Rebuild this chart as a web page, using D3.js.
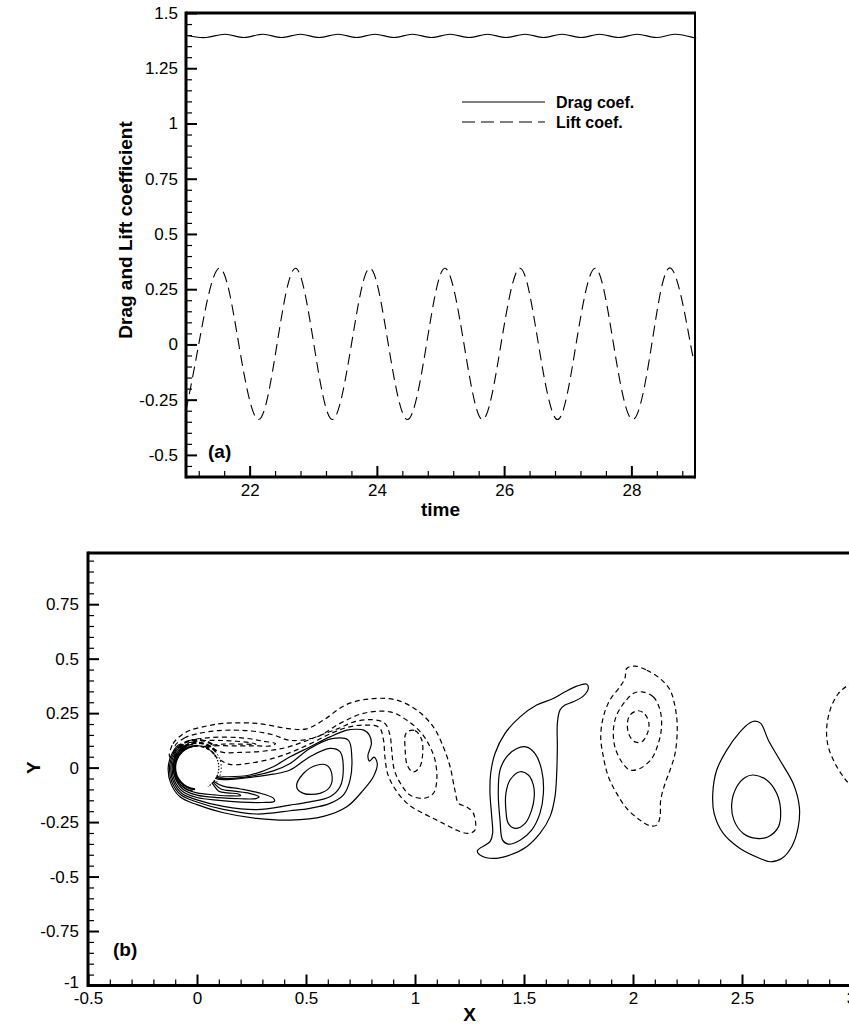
<!DOCTYPE html>
<html><head><meta charset="utf-8">
<script src="https://cdn.jsdelivr.net/npm/d3@7"></script>
<style>
body{margin:0;background:#fff}
text{font-family:"Liberation Sans",Arial,Helvetica,sans-serif;fill:#000}
</style>
</head><body>
<svg id="c" width="849" height="1025"></svg>
<script>
// ---------------- DATA: panel (a) ----------------
const liftTime  = [21.00,21.20,21.52,21.83,22.14,22.43,22.72,23.01,23.30,23.60,23.89,24.18,24.48,24.78,25.07,25.37,25.66,25.95,26.25,26.54,26.84,27.13,27.43,27.72,28.02,28.32,28.62,28.93,29.00];
const liftValue = [-0.30,0,0.345,0,-0.34,0,0.345,0,-0.34,0,0.345,0,-0.34,0,0.345,0,-0.34,0,0.345,0,-0.34,0,0.345,0,-0.34,0,0.345,0,-0.07];
const dragTime  = [21.00,21.32,21.62,21.91,22.21,22.50,22.80,23.09,23.39,23.68,23.97,24.27,24.56,24.86,25.15,25.45,25.74,26.03,26.33,26.62,26.91,27.21,27.50,27.80,28.09,28.39,28.68,28.97,29.00];
const dragValue = [1.399,1.389,1.404,1.389,1.404,1.389,1.404,1.389,1.404,1.389,1.404,1.389,1.404,1.389,1.404,1.389,1.404,1.389,1.404,1.389,1.404,1.389,1.404,1.389,1.404,1.389,1.404,1.389,1.390];
const timeTicks = [22,24,26,28];
const coefTicks = [-0.5,-0.25,0,0.25,0.5,0.75,1,1.25,1.5];
const legendLabels = ["Drag coef.","Lift coef."];
const panelA = {xLabel:"time", yLabel:"Drag and Lift coefficient", tag:"(a)"};

// ---------------- DATA: panel (b) vorticity contours (x, y) ----------------
const xTicksB = [-0.5,0,0.5,1,1.5,2,2.5,3];
const yTicksB = [-1,-0.75,-0.5,-0.25,0,0.25,0.5,0.75];
const panelB = {xLabel:"X", yLabel:"Y", tag:"(b)"};
const cylinder = {cx:0, cy:0, r:0.1};

// positive vorticity (solid)
const vortex1Outer = [[1.286,-0.382],[1.344,-0.340],[1.356,-0.302],[1.352,-0.226],[1.344,-0.118],[1.347,-0.027],[1.367,0.065],[1.413,0.157],[1.482,0.233],[1.558,0.287],[1.634,0.317],[1.688,0.348],[1.742,0.374],[1.788,0.383],[1.795,0.363],[1.772,0.328],[1.726,0.302],[1.688,0.287],[1.665,0.264],[1.653,0.203],[1.653,0.095],[1.650,-0.027],[1.642,-0.134],[1.619,-0.226],[1.573,-0.302],[1.512,-0.363],[1.436,-0.401],[1.359,-0.417],[1.306,-0.406]];
const vortex1Mid = [[1.509,0.095],[1.550,0.065],[1.581,-0.011],[1.589,-0.118],[1.573,-0.210],[1.535,-0.287],[1.482,-0.333],[1.428,-0.351],[1.402,-0.333],[1.390,-0.241],[1.382,-0.118],[1.390,-0.011],[1.421,0.050],[1.467,0.088]];
const vortex1Inner = [[1.482,-0.019],[1.520,-0.034],[1.543,-0.080],[1.547,-0.134],[1.535,-0.195],[1.505,-0.256],[1.459,-0.279],[1.428,-0.256],[1.417,-0.195],[1.417,-0.118],[1.436,-0.057]];
const vortex3Outer = [[2.560,0.213],[2.586,0.203],[2.621,0.126],[2.674,0.034],[2.735,-0.073],[2.763,-0.180],[2.758,-0.272],[2.728,-0.363],[2.682,-0.417],[2.628,-0.432],[2.583,-0.417],[2.491,-0.371],[2.414,-0.302],[2.372,-0.210],[2.366,-0.118],[2.384,-0.011],[2.430,0.080],[2.491,0.164],[2.537,0.206]];
const vortex3Inner = [[2.552,-0.034],[2.613,-0.057],[2.659,-0.118],[2.677,-0.195],[2.667,-0.272],[2.621,-0.317],[2.567,-0.325],[2.506,-0.302],[2.463,-0.241],[2.453,-0.164],[2.476,-0.088],[2.514,-0.045]];
const shearPos4 = [[-0.076,0.108],[-0.114,0.066],[-0.132,0],[-0.121,-0.07],[-0.078,-0.134],[0,-0.17],[0.121,-0.207],[0.274,-0.233],[0.427,-0.241],[0.58,-0.224],[0.687,-0.18],[0.763,-0.103],[0.809,-0.042],[0.827,0.019],[0.812,0.048],[0.792,0.03],[0.784,0.055],[0.800,0.11],[0.790,0.15],[0.765,0.172],[0.73,0.176],[0.687,0.172],[0.61,0.141],[0.518,0.095],[0.427,0.05],[0.35,0.004],[0.243,-0.034],[0.136,-0.042],[0.09,-0.04],[0.05,0.0],[0.0,0.05],[-0.05,0.085]];
const shearPos3 = [[-0.072,0.103],[-0.109,0.063],[-0.126,0],[-0.115,-0.067],[-0.073,-0.126],[0,-0.158],[0.121,-0.192],[0.274,-0.213],[0.427,-0.198],[0.518,-0.187],[0.61,-0.164],[0.671,-0.126],[0.702,-0.057],[0.71,0.05],[0.694,0.126],[0.625,0.134],[0.518,0.088],[0.427,0.019],[0.35,-0.015],[0.243,-0.04],[0.14,-0.05],[0.088,-0.045],[0.04,0.0],[-0.03,0.07]];
const shearPos2 = [[-0.069,0.098],[-0.104,0.06],[-0.12,0],[-0.109,-0.063],[-0.069,-0.119],[0,-0.148],[0.121,-0.178],[0.274,-0.193],[0.427,-0.172],[0.518,-0.157],[0.61,-0.134],[0.656,-0.088],[0.671,0.004],[0.656,0.073],[0.61,0.088],[0.518,0.05],[0.427,-0.011],[0.35,-0.03],[0.243,-0.045],[0.14,-0.055],[0.086,-0.05],[0.04,-0.01],[-0.03,0.06]];
const wakeBlob = [[0.457,-0.088],[0.488,-0.027],[0.549,0.011],[0.595,0.011],[0.618,-0.027],[0.61,-0.088],[0.564,-0.118],[0.488,-0.118]];
const tongue1 = [[-0.065,0.093],[-0.099,0.057],[-0.114,0],[-0.103,-0.06],[-0.064,-0.111],[0,-0.137],[0.1,-0.15],[0.2,-0.158],[0.3,-0.16],[0.355,-0.155],[0.35,-0.14],[0.28,-0.115],[0.2,-0.098],[0.12,-0.085],[0.08,-0.065],[0.02,0.0],[-0.03,0.07]];
const tongue2 = [[-0.062,0.088],[-0.094,0.054],[-0.108,0],[-0.097,-0.056],[-0.06,-0.103],[0,-0.126],[0.1,-0.138],[0.2,-0.143],[0.27,-0.142],[0.285,-0.134],[0.24,-0.118],[0.17,-0.108],[0.11,-0.098],[0.075,-0.068],[0.02,0],[-0.03,0.065]];
const tongue3 = [[-0.059,0.084],[-0.089,0.052],[-0.103,0],[-0.092,-0.053],[-0.056,-0.096],[0,-0.116],[0.08,-0.125],[0.15,-0.13],[0.2,-0.128],[0.19,-0.121],[0.14,-0.116],[0.1,-0.108],[0.07,-0.072],[0.02,0],[-0.03,0.06]];

// negative vorticity (dashed)
const vortex2Outer = [[2.009,0.466],[2.063,0.447],[2.124,0.409],[2.170,0.356],[2.193,0.279],[2.203,0.187],[2.193,0.065],[2.170,-0.011],[2.147,-0.073],[2.127,-0.149],[2.124,-0.226],[2.109,-0.264],[2.078,-0.267],[2.032,-0.241],[1.971,-0.187],[1.925,-0.118],[1.887,-0.042],[1.864,0.050],[1.852,0.141],[1.864,0.233],[1.894,0.310],[1.940,0.371],[1.963,0.409],[1.971,0.455]];
const vortex2Mid = [[2.040,0.348],[2.093,0.325],[2.124,0.264],[2.131,0.187],[2.116,0.111],[2.086,0.042],[2.032,-0.004],[1.986,-0.011],[1.948,0.027],[1.917,0.095],[1.910,0.172],[1.925,0.241],[1.963,0.302],[2.001,0.340]];
const vortex2Inner = [[2.024,0.261],[2.055,0.245],[2.073,0.203],[2.066,0.157],[2.040,0.118],[2.009,0.118],[1.983,0.149],[1.974,0.195],[1.986,0.241]];
const shearNegA = [[-0.125,0.05],[-0.11,0.11],[-0.07,0.15],[-0.03,0.172],[0.05,0.192],[0.12,0.203],[0.274,0.203],[0.427,0.178],[0.503,0.178],[0.58,0.218],[0.687,0.29],[0.809,0.317],[0.916,0.31],[1.008,0.264],[1.084,0.187],[1.13,0.095],[1.161,0.004],[1.183,-0.103],[1.2,-0.164],[1.237,-0.18],[1.268,-0.21],[1.275,-0.287],[1.245,-0.302],[1.191,-0.287],[1.145,-0.264],[1.1,-0.241],[1.038,-0.21],[0.97,-0.17],[0.91,-0.1],[0.875,-0.03],[0.862,0.05],[0.855,0.13],[0.835,0.185],[0.76,0.195],[0.69,0.185],[0.61,0.155],[0.52,0.11],[0.43,0.07],[0.34,0.04],[0.24,0.02],[0.15,0.015],[0.1,0.04],[0.05,0.08],[-0.02,0.09],[-0.08,0.06]];
const shearNegB = [[-0.1,0.1],[-0.06,0.135],[0.0,0.155],[0.1,0.17],[0.25,0.168],[0.35,0.15],[0.427,0.125],[0.549,0.141],[0.656,0.203],[0.763,0.249],[0.885,0.256],[0.962,0.218],[1.031,0.157],[1.069,0.095],[1.092,0.034],[1.1,-0.057],[1.084,-0.118],[1.038,-0.141],[0.977,-0.126],[0.935,-0.075],[0.905,-0.01],[0.893,0.08],[0.885,0.15],[0.86,0.205],[0.8,0.22],[0.72,0.21],[0.65,0.18],[0.57,0.15],[0.48,0.115],[0.4,0.09],[0.3,0.075],[0.2,0.07],[0.12,0.07],[0.06,0.09],[0.0,0.1],[-0.06,0.09]];
const shearNegCore = [[0.96,0.16],[1.0,0.17],[1.03,0.13],[1.035,0.06],[1.02,0.0],[0.99,-0.02],[0.965,0.01],[0.955,0.08]];
const negTongue1 = [[-0.085,0.09],[-0.04,0.122],[0.03,0.135],[0.12,0.14],[0.22,0.135],[0.3,0.122],[0.36,0.11],[0.34,0.1],[0.26,0.1],[0.16,0.1],[0.08,0.1],[0.02,0.09],[-0.04,0.085]];
const negTongue2 = [[-0.07,0.1],[-0.02,0.118],[0.06,0.125],[0.15,0.123],[0.24,0.115],[0.27,0.108],[0.2,0.108],[0.12,0.108],[0.05,0.1],[-0.02,0.09]];
const edgeVortexOpen = [[3.05,0.40],[2.988,0.378],[2.942,0.340],[2.904,0.264],[2.888,0.172],[2.896,0.095],[2.927,0.019],[2.965,-0.042],[2.992,-0.073],[3.05,-0.10]];

const solidContours = [vortex1Outer,vortex1Mid,vortex1Inner,vortex3Outer,vortex3Inner,shearPos4,shearPos3,shearPos2,wakeBlob,tongue1,tongue2,tongue3];
const dashedContours = [vortex2Outer,vortex2Mid,vortex2Inner,shearNegA,shearNegB,shearNegCore,negTongue1,negTongue2];
const dashedOpen = [edgeVortexOpen];

// ---------------- DRAWING ----------------
const svg = d3.select("#c");
const FONT = 17;

function styleAxis(g){
  g.select(".domain").remove();
  g.attr("font-family",null).attr("font-size",null);
  g.selectAll("text").attr("font-size",FONT);
}

// ===== Panel (a) =====
const xA = d3.scaleLinear().domain([21,29]).range([186,695]);
const yA = d3.scaleLinear().domain([-0.6,1.5]).range([477,13]);
const timeMinor = d3.range(21.2,29,0.4).map(v=>+v.toFixed(2)).filter(v=>!timeTicks.some(t=>Math.abs(t-v)<1e-6));
const coefMinor = d3.range(-0.55,1.5,0.05).map(v=>+v.toFixed(2)).filter(v=>!coefTicks.some(t=>Math.abs(t-v)<1e-6));

const gA = svg.append("g");
gA.append("g").attr("transform","translate(0,477)")
  .call(d3.axisBottom(xA).tickValues(timeTicks).tickSize(-11).tickPadding(7).tickFormat(d=>String(d)))
  .call(styleAxis).selectAll("line").attr("stroke-width",2);
gA.append("g").attr("transform","translate(0,477)")
  .call(d3.axisBottom(xA).tickValues(timeMinor).tickSize(-6).tickFormat(""))
  .call(styleAxis).selectAll("line").attr("stroke-width",1.2);
gA.append("g").attr("transform","translate(186,0)")
  .call(d3.axisLeft(yA).tickValues(coefTicks).tickSize(-11).tickPadding(8).tickFormat(d=>String(d)))
  .call(styleAxis).selectAll("line").attr("stroke-width",2);
gA.append("g").attr("transform","translate(186,0)")
  .call(d3.axisLeft(yA).tickValues(coefMinor).tickSize(-6).tickFormat(""))
  .call(styleAxis).selectAll("line").attr("stroke-width",1.2);

// frame
gA.append("line").attr("x1",186).attr("x2",186).attr("y1",yA(1.5)-1.5).attr("y2",yA(-0.6)+1.5).attr("stroke","#000").attr("stroke-width",3);
gA.append("line").attr("x1",186).attr("x2",695).attr("y1",yA(-0.6)).attr("y2",yA(-0.6)).attr("stroke","#000").attr("stroke-width",3);
gA.append("line").attr("x1",186).attr("x2",696).attr("y1",yA(1.5)).attr("y2",yA(1.5)).attr("stroke","#000").attr("stroke-width",3);
gA.append("line").attr("x1",xA(29)).attr("x2",xA(29)).attr("y1",yA(1.5)).attr("y2",yA(-0.6)+1.5).attr("stroke","#000").attr("stroke-width",2);

const lineA = d3.line().x(d=>xA(d[0])).y(d=>yA(d[1])).curve(d3.curveNatural);
gA.append("path").datum(dragTime.map((t,i)=>[t,dragValue[i]])).attr("d",lineA)
  .attr("fill","none").attr("stroke","#000").attr("stroke-width",1.1);
gA.append("path").datum(liftTime.map((t,i)=>[t,liftValue[i]])).attr("d",lineA)
  .attr("fill","none").attr("stroke","#000").attr("stroke-width",1.1).attr("stroke-dasharray","11,6");

// legend
const leg = gA.append("g");
legendLabels.forEach((lab,i)=>{
  const yy = 102 + i*20;
  leg.append("line").attr("x1",462).attr("x2",545).attr("y1",yy).attr("y2",yy)
    .attr("stroke","#000").attr("stroke-width",1.1).attr("stroke-dasharray",i? "13,6":null);
  leg.append("text").attr("x",556).attr("y",yy+5.5).attr("font-size",16).attr("font-weight","bold").text(lab);
});
gA.append("text").attr("x",xA(25)).attr("y",516).attr("text-anchor","middle").attr("font-size",19).attr("font-weight","bold").text(panelA.xLabel);
gA.append("text").attr("transform",`translate(132,230) rotate(-90)`).attr("text-anchor","middle").attr("font-size",19).attr("font-weight","bold").text(panelA.yLabel);
gA.append("text").attr("x",208).attr("y",458).attr("font-size",19).attr("font-weight","bold").text(panelA.tag);

// ===== Panel (b) =====
const xB = d3.scaleLinear().domain([-0.5,3]).range([88,851]);
const yB = d3.scaleLinear().domain([-1,0.985]).range([985.5,553]);
const xMinorB = d3.range(-0.4,3,0.1).map(v=>+v.toFixed(2)).filter(v=>!xTicksB.some(t=>Math.abs(t-v)<1e-6));
const yMinorB = d3.range(-0.95,0.97,0.05).map(v=>+v.toFixed(2)).filter(v=>!yTicksB.some(t=>Math.abs(t-v)<1e-6));

const gB = svg.append("g");
svg.append("defs").append("clipPath").attr("id","clipB").append("rect")
  .attr("x",xB(-0.5)).attr("y",yB(0.985)).attr("width",xB(3)-xB(-0.5)).attr("height",yB(-1)-yB(0.985));

const cg = gB.append("g").attr("clip-path","url(#clipB)");
const loop = d3.line().x(d=>xB(d[0])).y(d=>yB(d[1])).curve(d3.curveCatmullRomClosed.alpha(0.5));
const open = d3.line().x(d=>xB(d[0])).y(d=>yB(d[1])).curve(d3.curveCatmullRom.alpha(0.5));
cg.selectAll("path.sol").data(solidContours).join("path").attr("class","sol").attr("d",loop)
  .attr("fill","none").attr("stroke","#000").attr("stroke-width",1.2);
cg.selectAll("path.dsh").data(dashedContours).join("path").attr("class","dsh").attr("d",loop)
  .attr("fill","none").attr("stroke","#000").attr("stroke-width",1.2).attr("stroke-dasharray","5,3.5");
cg.selectAll("path.dop").data(dashedOpen).join("path").attr("class","dop").attr("d",open)
  .attr("fill","none").attr("stroke","#000").attr("stroke-width",1.2).attr("stroke-dasharray","5,3.5");

// cylinder body
const ccx = xB(cylinder.cx), ccy = yB(cylinder.cy), rpx = xB(cylinder.r)-xB(0);
cg.append("circle").attr("cx",ccx).attr("cy",ccy).attr("r",rpx-0.5).attr("fill","#fff").attr("stroke","none");
function arcPath(r,a0,a1){const p=d3.path(); p.arc(ccx,ccy,r,a0,a1); return p.toString();}
const deg = Math.PI/180;
cg.append("path").attr("d",arcPath(rpx,95*deg,270*deg)).attr("fill","none").attr("stroke","#000").attr("stroke-width",2);
cg.append("path").attr("d",arcPath(rpx+2,100*deg,260*deg)).attr("fill","none").attr("stroke","#000").attr("stroke-width",1.2);
cg.append("path").attr("d",arcPath(rpx,200*deg,330*deg)).attr("fill","none").attr("stroke","#000").attr("stroke-width",1.8).attr("stroke-dasharray","4,2");
cg.append("path").attr("d",arcPath(rpx+3,205*deg,320*deg)).attr("fill","none").attr("stroke","#000").attr("stroke-width",2.2).attr("stroke-dasharray","5,2.5");
cg.append("path").attr("d",arcPath(rpx+6,210*deg,310*deg)).attr("fill","none").attr("stroke","#000").attr("stroke-width",2).attr("stroke-dasharray","5,3");
cg.append("path").attr("d",arcPath(rpx,-60*deg,60*deg)).attr("fill","none").attr("stroke","#000").attr("stroke-width",1.2).attr("stroke-dasharray","1.5,1.5");
cg.append("path").attr("d",arcPath(rpx+2.5,-50*deg,40*deg)).attr("fill","none").attr("stroke","#000").attr("stroke-width",1).attr("stroke-dasharray","1.5,2");

// axes
gB.append("g").attr("transform",`translate(0,${yB(-1)})`)
  .call(d3.axisBottom(xB).tickValues(xTicksB).tickSize(-11).tickPadding(6).tickFormat(d=>String(d)))
  .call(styleAxis).selectAll("line").attr("stroke-width",2);
gB.append("g").attr("transform",`translate(0,${yB(-1)})`)
  .call(d3.axisBottom(xB).tickValues(xMinorB).tickSize(-6).tickFormat(""))
  .call(styleAxis).selectAll("line").attr("stroke-width",1.2);
const yAxisB = gB.append("g").attr("transform",`translate(${xB(-0.5)},0)`)
  .call(d3.axisLeft(yB).tickValues(yTicksB).tickSize(-11).tickPadding(9).tickFormat(d=>String(d)))
  .call(styleAxis);
yAxisB.selectAll("line").attr("stroke-width",2);
yAxisB.selectAll(".tick").filter(d=>d===-1).select("text").attr("dy","0.12em");
gB.append("g").attr("transform",`translate(${xB(-0.5)},0)`)
  .call(d3.axisLeft(yB).tickValues(yMinorB).tickSize(-6).tickFormat(""))
  .call(styleAxis).selectAll("line").attr("stroke-width",1.2);
gB.append("line").attr("x1",xB(-0.5)).attr("x2",xB(-0.5)).attr("y1",yB(0.985)-1.5).attr("y2",yB(-1)+1.5).attr("stroke","#000").attr("stroke-width",3);
gB.append("line").attr("x1",xB(-0.5)).attr("x2",xB(3)).attr("y1",yB(-1)).attr("y2",yB(-1)).attr("stroke","#000").attr("stroke-width",3);
gB.append("line").attr("x1",xB(-0.5)).attr("x2",xB(3)).attr("y1",yB(0.985)).attr("y2",yB(0.985)).attr("stroke","#000").attr("stroke-width",3);

gB.append("text").attr("x",xB(1.25)).attr("y",1021).attr("text-anchor","middle").attr("font-size",19).attr("font-weight","bold").text(panelB.xLabel);
gB.append("text").attr("transform",`translate(40,${yB(0)}) rotate(-90)`).attr("text-anchor","middle").attr("font-size",19).attr("font-weight","bold").text(panelB.yLabel);
gB.append("text").attr("x",113).attr("y",956).attr("font-size",19).attr("font-weight","bold").text(panelB.tag);
</script>
</body></html>
